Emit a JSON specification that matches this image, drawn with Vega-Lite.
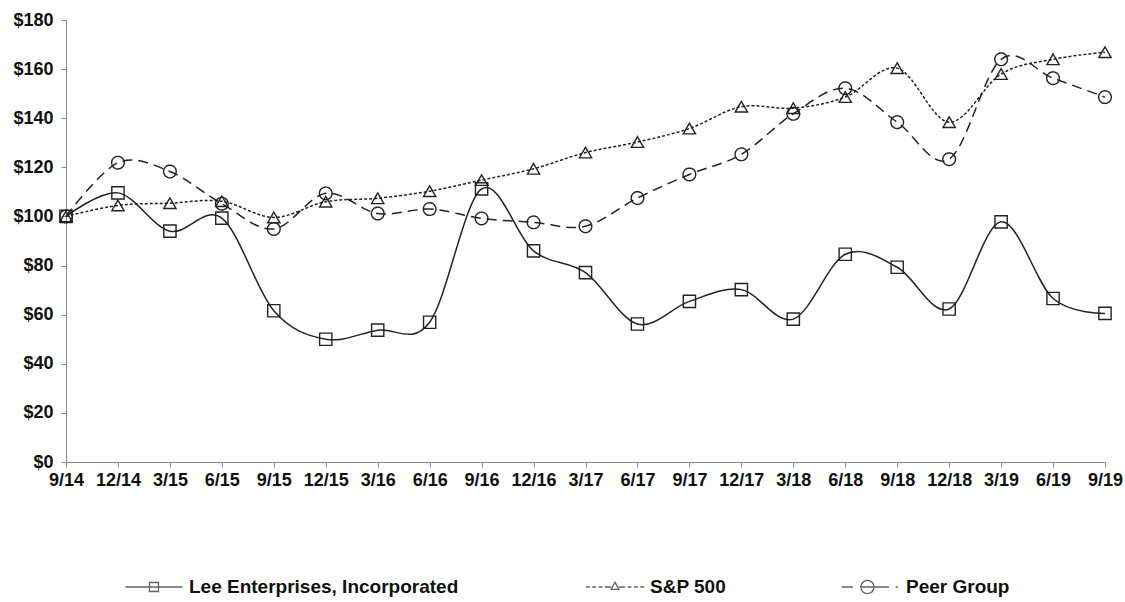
{
  "$schema": "https://vega.github.io/schema/vega-lite/v6.json",
  "width": 1039,
  "height": 442,
  "autosize": {"type": "none"},
  "padding": {"left": 66, "top": 20, "right": 20, "bottom": 140},
  "background": "white",
  "config": {
    "view": {"stroke": null},
    "font": "Liberation Sans",
    "axis": {
      "grid": false,
      "domainColor": "#888",
      "tickColor": "#888",
      "tickSize": 5,
      "labelFont": "Liberation Sans",
      "labelFontSize": 18,
      "labelFontWeight": "bold",
      "labelColor": "#111",
      "title": null
    },
    "legend": {
      "orient": "none",
      "title": null,
      "padding": 0,
      "symbolSize": 3600,
      "symbolStrokeWidth": 1.3,
      "symbolStrokeColor": "#222",
      "symbolFillColor": "transparent",
      "labelFont": "Liberation Sans",
      "labelFontSize": 19,
      "labelFontWeight": "bold",
      "labelColor": "#111",
      "labelOffset": 4,
      "labelLimit": 500
    }
  },
  "data": {
    "values": [
      {"date": "9/14", "series": "Lee", "value": 100},
      {"date": "12/14", "series": "Lee", "value": 109.6},
      {"date": "3/15", "series": "Lee", "value": 94},
      {"date": "6/15", "series": "Lee", "value": 99.3},
      {"date": "9/15", "series": "Lee", "value": 61.6},
      {"date": "12/15", "series": "Lee", "value": 50},
      {"date": "3/16", "series": "Lee", "value": 53.7},
      {"date": "6/16", "series": "Lee", "value": 56.9},
      {"date": "9/16", "series": "Lee", "value": 111.2},
      {"date": "12/16", "series": "Lee", "value": 86},
      {"date": "3/17", "series": "Lee", "value": 77.1},
      {"date": "6/17", "series": "Lee", "value": 56.2},
      {"date": "9/17", "series": "Lee", "value": 65.4},
      {"date": "12/17", "series": "Lee", "value": 70.2},
      {"date": "3/18", "series": "Lee", "value": 58.2},
      {"date": "6/18", "series": "Lee", "value": 84.6},
      {"date": "9/18", "series": "Lee", "value": 79.3},
      {"date": "12/18", "series": "Lee", "value": 62.3},
      {"date": "3/19", "series": "Lee", "value": 97.8},
      {"date": "6/19", "series": "Lee", "value": 66.6},
      {"date": "9/19", "series": "Lee", "value": 60.5},
      {"date": "9/14", "series": "SP", "value": 100},
      {"date": "12/14", "series": "SP", "value": 104.5},
      {"date": "3/15", "series": "SP", "value": 105.4},
      {"date": "6/15", "series": "SP", "value": 106.2},
      {"date": "9/15", "series": "SP", "value": 99.6},
      {"date": "12/15", "series": "SP", "value": 106},
      {"date": "3/16", "series": "SP", "value": 107.4},
      {"date": "6/16", "series": "SP", "value": 110.3},
      {"date": "9/16", "series": "SP", "value": 114.8},
      {"date": "12/16", "series": "SP", "value": 119.4},
      {"date": "3/17", "series": "SP", "value": 126},
      {"date": "6/17", "series": "SP", "value": 130.3},
      {"date": "9/17", "series": "SP", "value": 135.8},
      {"date": "12/17", "series": "SP", "value": 144.7},
      {"date": "3/18", "series": "SP", "value": 144.1},
      {"date": "6/18", "series": "SP", "value": 148.6},
      {"date": "9/18", "series": "SP", "value": 160.4},
      {"date": "12/18", "series": "SP", "value": 138.4},
      {"date": "3/19", "series": "SP", "value": 158},
      {"date": "6/19", "series": "SP", "value": 164},
      {"date": "9/19", "series": "SP", "value": 166.9},
      {"date": "9/14", "series": "Peer", "value": 100},
      {"date": "12/14", "series": "Peer", "value": 121.9},
      {"date": "3/15", "series": "Peer", "value": 118.3},
      {"date": "6/15", "series": "Peer", "value": 105.2},
      {"date": "9/15", "series": "Peer", "value": 94.9},
      {"date": "12/15", "series": "Peer", "value": 109.4},
      {"date": "3/16", "series": "Peer", "value": 101.2},
      {"date": "6/16", "series": "Peer", "value": 103},
      {"date": "9/16", "series": "Peer", "value": 99.2},
      {"date": "12/16", "series": "Peer", "value": 97.6},
      {"date": "3/17", "series": "Peer", "value": 96},
      {"date": "6/17", "series": "Peer", "value": 107.5},
      {"date": "9/17", "series": "Peer", "value": 117.1},
      {"date": "12/17", "series": "Peer", "value": 125.3},
      {"date": "3/18", "series": "Peer", "value": 141.8},
      {"date": "6/18", "series": "Peer", "value": 152.2},
      {"date": "9/18", "series": "Peer", "value": 138.4},
      {"date": "12/18", "series": "Peer", "value": 123.3},
      {"date": "3/19", "series": "Peer", "value": 164},
      {"date": "6/19", "series": "Peer", "value": 156.3},
      {"date": "9/19", "series": "Peer", "value": 148.6}
    ]
  },
  "encoding": {
    "x": {
      "field": "date",
      "type": "ordinal",
      "sort": null,
      "scale": {"type": "point", "padding": 0},
      "axis": {"labelAngle": 0, "labelPadding": 4}
    },
    "y": {
      "field": "value",
      "type": "quantitative",
      "scale": {"domain": [0, 180], "nice": false},
      "axis": {"values": [0, 20, 40, 60, 80, 100, 120, 140, 160, 180], "format": "$.0f", "labelPadding": 8}
    }
  },
  "layer": [
    {
      "transform": [{"filter": "datum.series === 'SP'"}],
      "mark": {
        "type": "line", "interpolate": "cardinal", "color": "#222", "strokeWidth": 1.5, "strokeDash": [3, 2],
        "point": {"shape": "triangle-up", "filled": false, "size": 150, "color": "#222", "strokeWidth": 1.4, "strokeDash": [1, 0]}
      }
    },
    {
      "transform": [{"filter": "datum.series === 'Peer'"}],
      "mark": {
        "type": "line", "interpolate": "cardinal", "color": "#222", "strokeWidth": 1.5, "strokeDash": [10, 6],
        "point": {"shape": "circle", "filled": false, "size": 160, "color": "#222", "strokeWidth": 1.4, "strokeDash": [1, 0]}
      }
    },
    {
      "transform": [{"filter": "datum.series === 'Lee'"}],
      "mark": {
        "type": "line", "interpolate": "cardinal", "color": "#222", "strokeWidth": 1.5,
        "point": {"shape": "square", "filled": false, "size": 150, "color": "#222", "strokeWidth": 1.4}
      }
    },
    {
      "data": {"values": []},
      "mark": {"type": "point", "filled": false, "color": "#222", "strokeWidth": 1.3},
      "encoding": {
        "shape": {
          "datum": "Lee Enterprises, Incorporated",
          "type": "nominal",
          "scale": {"range": ["M-0.95,0H0.95M-0.15,-0.15H0.15V0.15H-0.15Z"]},
          "legend": {"orient": "none", "legendX": 57, "legendY": 536}
        }
      }
    },
    {
      "data": {"values": []},
      "mark": {"type": "point", "filled": false, "color": "#222", "strokeWidth": 1.3},
      "encoding": {
        "strokeDash": {
          "datum": "S&P 500",
          "type": "nominal",
          "scale": {"range": [[1, 0]]},
          "legend": {
            "orient": "none", "legendX": 518, "legendY": 536,
            "symbolType": "M-0.97,0H-0.84M-0.76,0H-0.63M-0.55,0H-0.42M-0.34,0H-0.13M0.13,0H0.34M0.42,0H0.55M0.63,0H0.76M0.84,0H0.97M-0.13,0.08L0,-0.16L0.13,0.08Z"
          }
        }
      }
    },
    {
      "data": {"values": []},
      "mark": {"type": "point", "filled": false, "strokeWidth": 1.3},
      "encoding": {
        "color": {
          "datum": "Peer Group",
          "type": "nominal",
          "scale": {"range": ["#222"]},
          "legend": {
            "orient": "none", "legendX": 774, "legendY": 536,
            "symbolType": "M-0.98,0H-0.6M-0.34,0H0.6M0.82,0H0.9M-0.34,0A0.22,0.22 0 1 0 0.1,0A0.22,0.22 0 1 0 -0.34,0Z"
          }
        }
      }
    }
  ]
}
